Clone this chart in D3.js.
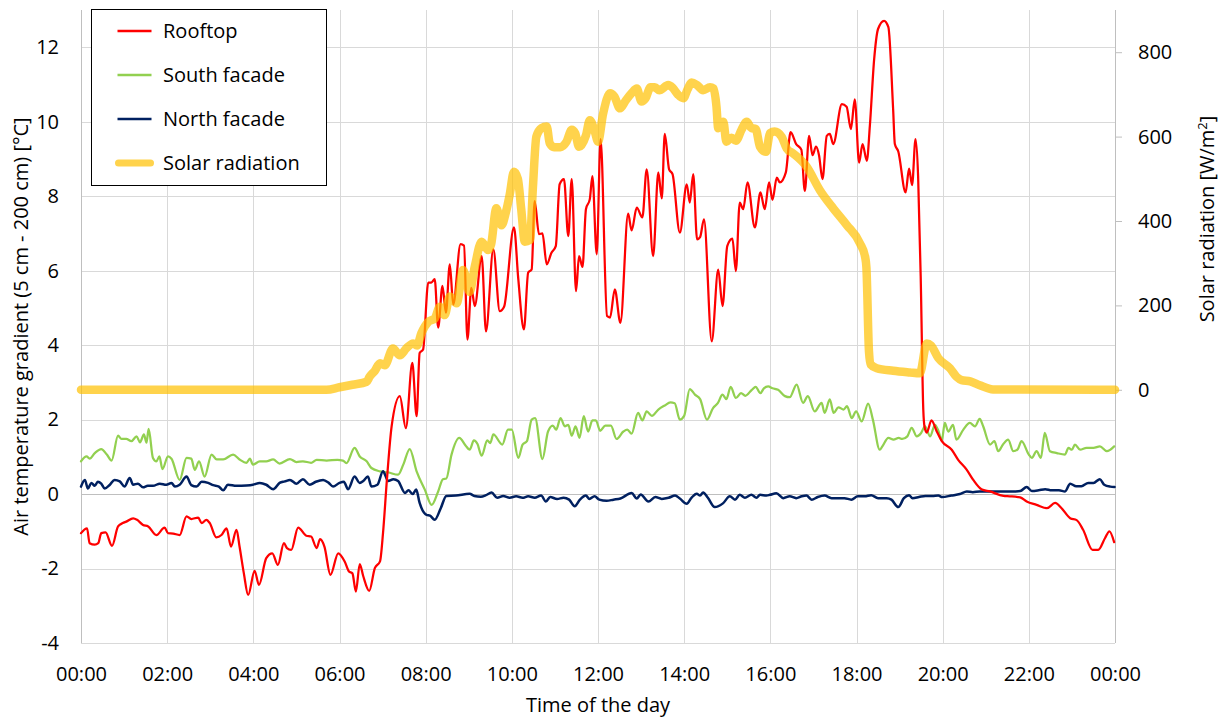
<!DOCTYPE html>
<html>
<head>
    <meta charset="utf-8">
    <title>air temperature gradient</title>
    <style media="screen">
        body {
            margin: 0;
            background: #fff;
        }

        svg text {
            font-family: "Open Sans", "DejaVu Sans", sans-serif;
            font-size: 20px;
            fill: #000;
        }

        .grid line {
            stroke: #d9d9d9;
            stroke-width: 1px;
        }

        .series {
            fill: none;
            stroke-linejoin: round;
            stroke-linecap: round;
        }
    </style>
</head>
<body>

</body>
<script src="https://d3js.org/d3.v7.min.js"></script>
<script type="text/javascript">
    // values: [hour of day, value]
    var rooftop = [
        [0, -1.05], [0.14, -0.92], [0.2, -1.32], [0.32, -1.36], [0.4, -1.32], [0.47, -1.05], [0.57, -1.03],
        [0.72, -1.39], [0.86, -0.87], [0.97, -0.78], [1.05, -0.74], [1.21, -0.65], [1.3, -0.69], [1.44, -0.83],
        [1.56, -0.87], [1.75, -1.1], [1.94, -0.9], [2.02, -1.05], [2.14, -1.06], [2.29, -1.1], [2.45, -0.6],
        [2.56, -0.67], [2.72, -0.63], [2.8, -0.78], [2.91, -0.69], [2.99, -0.78], [3.14, -1.16], [3.26, -1.1],
        [3.38, -0.92], [3.48, -1.41], [3.61, -0.96], [3.68, -1.41], [3.78, -2.13], [3.88, -2.71], [4.03, -2.06],
        [4.13, -2.44], [4.3, -1.72], [4.44, -1.59], [4.57, -1.9], [4.71, -1.32], [4.78, -1.45], [4.88, -1.5],
        [5.04, -0.9], [5.23, -1.12], [5.34, -1.14], [5.47, -1.45], [5.55, -1.21], [5.65, -1.41], [5.79, -2.17],
        [5.97, -1.59], [6.12, -1.81], [6.22, -2.08], [6.3, -2.13], [6.38, -2.62], [6.47, -1.88], [6.55, -2.2],
        [6.69, -2.6], [6.82, -1.99], [6.94, -1.81], [7.01, -1.05], [7.1, 0.38], [7.21, 1.82], [7.4, 2.63],
        [7.54, 1.77], [7.69, 3.52], [7.79, 2.09], [7.86, 3.79], [7.94, 3.88], [8.06, 5.68], [8.13, 5.68],
        [8.21, 5.77], [8.29, 4.47], [8.39, 5.59], [8.47, 4.87], [8.56, 6.17], [8.64, 5.09], [8.81, 6.71],
        [8.89, 6.67], [8.97, 4.15], [9.06, 5.54], [9.14, 5.05], [9.3, 6.39], [9.4, 4.37], [9.57, 6.57],
        [9.72, 4.91], [9.82, 5.03], [10.05, 7.16], [10.15, 5.77], [10.28, 4.42], [10.38, 5.95], [10.46, 6.03],
        [10.53, 7.87], [10.63, 6.98], [10.71, 7.0], [10.81, 6.17], [10.92, 6.48], [11.02, 6.66], [11.11, 8.32],
        [11.21, 8.46], [11.31, 6.93], [11.39, 8.46], [11.49, 5.45], [11.56, 6.39], [11.64, 6.1], [11.72, 7.65],
        [11.81, 7.92], [11.87, 8.54], [11.97, 6.44], [12.06, 9.53], [12.21, 4.78], [12.28, 4.74], [12.39, 5.5],
        [12.52, 4.6], [12.7, 7.53], [12.78, 7.08], [12.9, 7.69], [13.03, 7.43], [13.13, 8.72], [13.28, 6.39],
        [13.4, 8.64], [13.48, 7.94], [13.55, 9.67], [13.65, 8.72], [13.73, 8.59], [13.9, 7.02], [14.06, 8.32],
        [14.13, 7.83], [14.21, 8.59], [14.3, 6.84], [14.37, 6.9], [14.46, 7.38], [14.64, 4.1], [14.79, 6.03],
        [14.89, 5.05], [15.0, 6.66], [15.12, 6.86], [15.2, 5.99], [15.29, 7.83], [15.37, 7.65], [15.47, 8.37],
        [15.64, 7.16], [15.77, 8.1], [15.87, 7.65], [15.97, 8.37], [16.05, 7.9], [16.15, 8.5], [16.22, 8.37],
        [16.36, 8.64], [16.47, 9.72], [16.6, 9.4], [16.72, 9.25], [16.8, 8.14], [16.9, 9.62], [16.98, 9.1],
        [17.06, 9.33], [17.13, 9.1], [17.21, 8.46], [17.31, 9.62], [17.38, 9.67], [17.46, 9.4], [17.66, 10.47],
        [17.77, 10.4], [17.87, 9.8], [17.96, 10.6], [18.06, 8.9], [18.14, 9.4], [18.24, 8.95], [18.31, 9.89],
        [18.41, 11.68], [18.5, 12.49], [18.64, 12.71], [18.74, 12.54], [18.85, 10.34], [18.89, 9.4], [18.97, 9.2],
        [19.14, 8.1], [19.22, 8.74], [19.29, 8.3], [19.37, 9.53], [19.43, 8.54], [19.49, 5.85], [19.55, 2.27],
        [19.58, 1.8], [19.63, 1.65], [19.74, 1.98], [19.86, 1.69], [19.98, 1.42], [20.21, 1.19], [20.36, 0.92],
        [20.56, 0.65], [20.71, 0.38], [20.9, 0.13], [21.1, 0.07], [21.41, -0.05], [21.56, -0.06], [21.8, -0.09],
        [21.95, -0.2], [22.18, -0.29], [22.42, -0.38], [22.61, -0.24], [22.76, -0.38], [22.96, -0.65],
        [23.11, -0.7], [23.26, -0.96], [23.48, -1.5], [23.61, -1.5], [23.77, -1.18], [23.87, -1.0], [23.98, -1.29]
    ];

    var southFacade = [
        [0, 0.88], [0.13, 1.01], [0.2, 0.95], [0.32, 1.1], [0.47, 1.21], [0.6, 1.06], [0.71, 0.9], [0.86, 1.57],
        [0.94, 1.48], [1.05, 1.48], [1.17, 1.42], [1.29, 1.55], [1.37, 1.39], [1.46, 1.6], [1.52, 1.38],
        [1.57, 1.75], [1.67, 0.97], [1.75, 0.88], [1.82, 1.01], [1.89, 0.67], [2.02, 1.01], [2.1, 0.95],
        [2.29, 0.38], [2.45, 0.97], [2.56, 0.95], [2.64, 0.65], [2.74, 0.88], [2.87, 0.47], [3.03, 1.06],
        [3.15, 0.93], [3.3, 0.93], [3.53, 1.06], [3.68, 0.93], [3.84, 0.84], [3.92, 0.95], [3.99, 0.79],
        [4.15, 0.88], [4.3, 0.88], [4.46, 0.93], [4.61, 0.82], [4.85, 0.94], [5.0, 0.86], [5.15, 0.88],
        [5.34, 0.84], [5.47, 0.92], [5.7, 0.9], [5.95, 0.92], [6.08, 0.9], [6.16, 0.83], [6.35, 1.24],
        [6.47, 1.01], [6.63, 0.88], [6.74, 0.7], [6.94, 0.61], [7.13, 0.58], [7.36, 0.52], [7.48, 0.79],
        [7.63, 1.21], [7.79, 0.61], [7.98, 0.12], [8.14, -0.29], [8.29, 0.07], [8.4, 0.4], [8.48, 0.42],
        [8.6, 1.06], [8.78, 1.51], [8.93, 1.3], [9.02, 1.19], [9.12, 1.44], [9.2, 1.35], [9.3, 1.03],
        [9.43, 1.44], [9.5, 1.37], [9.57, 1.6], [9.78, 1.33], [9.91, 1.73], [10.0, 1.73], [10.15, 0.97],
        [10.25, 1.33], [10.35, 1.42], [10.46, 2.0], [10.54, 2.04], [10.71, 0.94], [10.84, 1.68], [10.95, 1.84],
        [11.03, 1.73], [11.13, 2.04], [11.23, 1.82], [11.31, 1.86], [11.39, 1.57], [11.48, 1.82], [11.57, 1.51],
        [11.67, 2.09], [11.77, 1.68], [11.87, 1.98], [11.95, 1.98], [12.05, 1.7], [12.17, 1.84], [12.3, 1.84],
        [12.43, 1.48], [12.59, 1.68], [12.68, 1.73], [12.78, 1.62], [12.93, 2.18], [13.03, 1.98], [13.13, 2.22],
        [13.25, 2.1], [13.4, 2.27], [13.55, 2.38], [13.68, 2.46], [13.78, 2.44], [13.9, 2.0], [14.0, 2.1],
        [14.13, 2.82], [14.25, 2.67], [14.37, 2.55], [14.53, 2.0], [14.67, 2.31], [14.78, 2.44], [14.89, 2.67],
        [14.98, 2.55], [15.08, 2.88], [15.2, 2.58], [15.32, 2.71], [15.42, 2.64], [15.57, 2.8], [15.66, 2.88],
        [15.77, 2.71], [15.85, 2.84], [15.95, 2.89], [16.05, 2.84], [16.18, 2.8], [16.34, 2.63], [16.45, 2.6],
        [16.61, 2.94], [16.76, 2.45], [16.87, 2.63], [17.03, 2.22], [17.19, 2.45], [17.26, 2.18], [17.38, 2.54],
        [17.47, 2.18], [17.58, 2.33], [17.7, 2.27], [17.78, 2.36], [17.89, 2.04], [17.99, 2.22], [18.12, 1.95],
        [18.27, 2.43], [18.38, 2.0], [18.54, 1.19], [18.6, 1.28], [18.74, 1.51], [18.86, 1.46], [18.98, 1.51],
        [19.06, 1.48], [19.18, 1.55], [19.28, 1.78], [19.4, 1.55], [19.5, 1.64], [19.59, 1.82], [19.71, 1.55],
        [19.82, 1.86], [19.9, 1.7], [19.98, 1.44], [20.05, 1.91], [20.13, 1.68], [20.24, 1.86], [20.32, 1.46],
        [20.48, 1.73], [20.63, 1.91], [20.75, 1.82], [20.86, 2.02], [20.94, 1.82], [21.1, 1.33], [21.2, 1.42],
        [21.29, 1.15], [21.4, 1.33], [21.52, 1.46], [21.64, 1.15], [21.74, 1.2], [21.83, 1.42], [22.0, 1.06],
        [22.07, 0.97], [22.18, 1.15], [22.28, 0.97], [22.37, 1.64], [22.49, 1.15], [22.65, 1.1], [22.84, 1.06],
        [22.92, 1.24], [23.0, 1.19], [23.07, 1.33], [23.19, 1.19], [23.34, 1.24], [23.5, 1.24], [23.65, 1.28],
        [23.81, 1.15], [23.98, 1.28]
    ];

    var northFacade = [
        [0, 0.2], [0.09, 0.38], [0.16, 0.15], [0.24, 0.3], [0.32, 0.22], [0.39, 0.33], [0.47, 0.28], [0.55, 0.15],
        [0.67, 0.25], [0.78, 0.38], [0.9, 0.34], [1.01, 0.2], [1.13, 0.43], [1.21, 0.25], [1.32, 0.28],
        [1.44, 0.18], [1.55, 0.22], [1.67, 0.22], [1.83, 0.28], [1.98, 0.25], [2.1, 0.3], [2.18, 0.2],
        [2.29, 0.25], [2.45, 0.47], [2.56, 0.24], [2.68, 0.2], [2.8, 0.33], [2.95, 0.3], [3.07, 0.24],
        [3.2, 0.2], [3.3, 0.1], [3.41, 0.25], [3.61, 0.22], [3.84, 0.23], [3.99, 0.25], [4.15, 0.3], [4.3, 0.25],
        [4.46, 0.13], [4.61, 0.3], [4.73, 0.34], [4.85, 0.38], [5.0, 0.28], [5.15, 0.4], [5.31, 0.25],
        [5.45, 0.33], [5.62, 0.38], [5.75, 0.3], [5.85, 0.2], [6.0, 0.3], [6.1, 0.33], [6.2, 0.13], [6.35, 0.47],
        [6.47, 0.3], [6.55, 0.35], [6.66, 0.47], [6.74, 0.2], [6.88, 0.25], [7.01, 0.61], [7.13, 0.35],
        [7.25, 0.4], [7.36, 0.35], [7.52, 0.03], [7.6, 0.1], [7.7, 0.0], [7.78, 0.12], [7.86, -0.24],
        [8.02, -0.56], [8.1, -0.58], [8.21, -0.69], [8.35, -0.38], [8.48, -0.05], [8.7, -0.04], [9.02, 0.01],
        [9.13, -0.05], [9.28, -0.07], [9.4, -0.03], [9.53, 0.04], [9.66, -0.1], [9.8, -0.05], [9.95, -0.1],
        [10.1, -0.06], [10.25, -0.1], [10.38, -0.06], [10.53, -0.1], [10.68, -0.04], [10.79, -0.2],
        [10.89, -0.08], [11.05, -0.13], [11.2, -0.1], [11.33, -0.15], [11.46, -0.33], [11.58, -0.15],
        [11.72, -0.04], [11.8, -0.13], [11.92, -0.06], [12.03, -0.15], [12.2, -0.18], [12.36, -0.15],
        [12.52, -0.12], [12.78, 0.03], [12.9, -0.12], [12.99, -0.01], [13.17, -0.2], [13.33, -0.08],
        [13.48, -0.13], [13.64, -0.1], [13.79, -0.04], [13.9, -0.12], [14.06, -0.26], [14.17, -0.1],
        [14.29, 0.01], [14.37, -0.04], [14.44, 0.04], [14.55, -0.1], [14.71, -0.35], [14.9, -0.25],
        [15.06, -0.06], [15.18, -0.15], [15.29, -0.02], [15.41, -0.1], [15.56, -0.02], [15.68, -0.1],
        [15.76, -0.02], [15.91, -0.04], [15.99, -0.02], [16.14, 0.02], [16.3, -0.11], [16.45, -0.06],
        [16.6, -0.11], [16.73, -0.06], [16.84, -0.04], [16.96, -0.15], [17.1, -0.08], [17.26, -0.04],
        [17.42, -0.11], [17.57, -0.11], [17.72, -0.11], [17.88, -0.15], [18.03, -0.06], [18.19, -0.06],
        [18.34, -0.03], [18.5, -0.11], [18.7, -0.11], [18.81, -0.15], [18.97, -0.35], [19.1, -0.11],
        [19.22, -0.03], [19.3, -0.11], [19.45, -0.08], [19.6, -0.05], [19.76, -0.05], [19.9, -0.04],
        [19.99, -0.08], [20.2, -0.04], [20.4, 0.0], [20.56, 0.07], [20.7, 0.05], [20.86, 0.07], [21.1, 0.07],
        [21.41, 0.07], [21.64, 0.07], [21.8, 0.08], [21.95, 0.19], [22.07, 0.08], [22.23, 0.1], [22.38, 0.13],
        [22.53, 0.1], [22.7, 0.1], [22.84, 0.07], [22.96, 0.28], [23.1, 0.21], [23.22, 0.21], [23.38, 0.3],
        [23.5, 0.3], [23.65, 0.4], [23.75, 0.25], [23.89, 0.2], [23.99, 0.19]
    ];

    var solarRadiation = [
        [0, 0], [5.7, 0], [6.0, 6], [6.3, 12], [6.63, 19], [6.7, 31], [6.82, 45], [6.94, 63], [7.05, 58],
        [7.24, 98], [7.4, 82], [7.55, 98], [7.71, 110], [7.8, 105], [7.9, 134], [8.06, 161], [8.21, 169],
        [8.33, 197], [8.44, 177], [8.56, 221], [8.72, 205], [8.87, 284], [9.02, 232], [9.14, 292], [9.3, 351],
        [9.45, 331], [9.52, 345], [9.64, 430], [9.76, 390], [9.86, 420], [9.95, 462], [10.05, 517],
        [10.14, 500], [10.22, 426], [10.3, 351], [10.42, 355], [10.49, 481], [10.57, 600], [10.69, 620],
        [10.81, 624], [10.88, 584], [10.98, 575], [11.13, 575], [11.27, 588], [11.39, 616], [11.47, 608],
        [11.56, 576], [11.72, 603], [11.81, 639], [11.93, 610], [12.0, 588], [12.12, 655], [12.28, 703],
        [12.38, 695], [12.51, 667], [12.64, 685], [12.78, 703], [12.9, 714], [13.01, 683], [13.1, 690],
        [13.22, 717], [13.32, 717], [13.42, 710], [13.63, 722], [13.73, 716], [13.86, 699], [13.98, 691],
        [14.08, 712], [14.17, 728], [14.3, 722], [14.44, 710], [14.6, 717], [14.68, 714], [14.75, 671],
        [14.79, 620], [14.91, 635], [14.98, 588], [15.1, 597], [15.2, 590], [15.33, 616], [15.45, 635],
        [15.56, 620], [15.66, 618], [15.76, 576], [15.9, 564], [15.99, 608], [16.1, 612], [16.26, 600],
        [16.38, 572], [16.53, 560], [16.84, 529], [17.15, 473], [17.46, 430], [17.77, 391], [18.08, 347],
        [18.2, 315], [18.23, 290], [18.29, 90], [18.33, 60], [18.47, 51], [18.85, 45], [19.24, 41],
        [19.47, 39], [19.63, 110], [19.73, 105], [19.9, 75], [20.17, 51], [20.32, 31], [20.44, 23],
        [20.64, 20], [20.86, 11], [21.17, 1], [24, 0]
    ];

    var hourTicks = [0, 2, 4, 6, 8, 10, 12, 14, 16, 18, 20, 22, 24];
    var hourLabels = ["00:00", "02:00", "04:00", "06:00", "08:00", "10:00", "12:00",
        "14:00", "16:00", "18:00", "20:00", "22:00", "00:00"];
    var tempTicks = [-4, -2, 0, 2, 4, 6, 8, 10, 12];
    var solarTicks = [0, 200, 400, 600, 800];

    var seriesNames = ["Rooftop", "South facade", "North facade", "Solar radiation"];
    var seriesColors = ["#ff0000", "#92d050", "#002060", "#ffc000"];

    // Set the dimensions and margins of the diagram
    var margin = {top: 10, right: 107, bottom: 77, left: 81},
        width = 1222 - margin.left - margin.right,
        height = 720 - margin.top - margin.bottom;

    var svg = d3.select("body").append("svg")
        .attr("width", 1222)
        .attr("height", 720);

    svg.append("rect")
        .attr("width", 1222)
        .attr("height", 720)
        .attr("fill", "#fff");

    var g = svg.append("g")
        .attr("transform", "translate(" + margin.left + "," + margin.top + ")");

    var x = d3.scaleLinear().domain([0, 24]).range([0, width]);
    var y = d3.scaleLinear().domain([-4, 13]).range([height, 0]);
    var y2 = d3.scaleLinear().domain([-600, 900]).range([height, 0]);

    // gridlines
    var grid = g.append("g").attr("class", "grid");
    grid.selectAll("line.h")
        .data(tempTicks)
        .enter().append("line")
        .attr("class", "h")
        .attr("x1", 0).attr("x2", width)
        .attr("y1", function (d) { return Math.round(y(d)) + 0.5; })
        .attr("y2", function (d) { return Math.round(y(d)) + 0.5; });
    grid.selectAll("line.v")
        .data(hourTicks.slice(1, -1))
        .enter().append("line")
        .attr("class", "v")
        .attr("y1", 0).attr("y2", height)
        .attr("x1", function (d) { return Math.round(x(d)) + 0.5; })
        .attr("x2", function (d) { return Math.round(x(d)) + 0.5; });

    // axis lines (value axis crosses at 0)
    var axisColor = "#bfbfbf";
    g.append("line")
        .attr("x1", 0).attr("x2", width)
        .attr("y1", Math.round(y(0)) + 0.5).attr("y2", Math.round(y(0)) + 0.5)
        .attr("stroke", axisColor);
    g.append("line")
        .attr("x1", 0.5).attr("x2", 0.5)
        .attr("y1", 0).attr("y2", height)
        .attr("stroke", axisColor);
    g.append("line")
        .attr("x1", Math.round(width) + 0.5).attr("x2", Math.round(width) + 0.5)
        .attr("y1", 0).attr("y2", height)
        .attr("stroke", axisColor);

    // left axis (plain hyphen for negatives, like the original)
    var leftAxis = g.append("g")
        .call(d3.axisLeft(y).tickValues(tempTicks).tickSize(0).tickPadding(22)
            .tickFormat(function (d) { return String(d); }));
    leftAxis.select(".domain").remove();

    // bottom axis, labels at the low end
    var bottomAxis = g.append("g")
        .attr("transform", "translate(0," + height + ")")
        .call(d3.axisBottom(x).tickValues(hourTicks).tickSize(0).tickPadding(24)
            .tickFormat(function (d, i) { return hourLabels[i]; }));
    bottomAxis.select(".domain").remove();

    // right axis
    var rightAxis = g.append("g")
        .attr("transform", "translate(" + width + ",0)")
        .call(d3.axisRight(y2).tickValues(solarTicks).tickSize(7).tickPadding(16)
            .tickFormat(function (d) { return String(d); }));
    rightAxis.select(".domain").remove();
    rightAxis.selectAll(".tick line").attr("stroke", axisColor);

    g.selectAll(".tick text")
        .style("font-family", "'Open Sans', sans-serif")
        .style("font-size", "20px")
        .attr("fill", "#000");

    // axis titles
    svg.append("text")
        .attr("x", margin.left + width / 2)
        .attr("y", 712)
        .attr("text-anchor", "middle")
        .text("Time of the day");

    svg.append("text")
        .attr("transform", "translate(28," + (margin.top + height / 2) + ") rotate(-90)")
        .attr("text-anchor", "middle")
        .text("Air temperature gradient (5 cm - 200 cm) [°C]");

    var rTitle = svg.append("text")
        .attr("transform", "translate(1214,219) rotate(-90)")
        .attr("text-anchor", "middle");
    rTitle.append("tspan").text("Solar radiation [W/m");
    rTitle.append("tspan").attr("dy", -7).style("font-size", "13px").text("2");
    rTitle.append("tspan").attr("dy", 7).text("]");

    // lines
    var lineT = d3.line()
        .x(function (d) { return x(d[0]); })
        .y(function (d) { return y(d[1]); })
        .curve(d3.curveMonotoneX);
    var lineS = d3.line()
        .x(function (d) { return x(d[0]); })
        .y(function (d) { return y2(d[1]); })
        .curve(d3.curveMonotoneX);

    g.append("path").datum(southFacade)
        .attr("class", "series")
        .attr("d", lineT)
        .attr("stroke", seriesColors[1])
        .attr("stroke-width", 2.25);

    g.append("path").datum(northFacade)
        .attr("class", "series")
        .attr("d", lineT)
        .attr("stroke", seriesColors[2])
        .attr("stroke-width", 2.5);

    g.append("path").datum(rooftop)
        .attr("class", "series")
        .attr("d", lineT)
        .attr("stroke", seriesColors[0])
        .attr("stroke-width", 2.25);

    g.append("path").datum(solarRadiation)
        .attr("class", "series")
        .attr("d", lineS)
        .attr("stroke", seriesColors[3])
        .attr("stroke-opacity", 0.7)
        .attr("stroke-width", 8.5);

    // legend
    var legend = svg.append("g").attr("transform", "translate(91.5,9.5)");
    legend.append("rect")
        .attr("width", 235)
        .attr("height", 176)
        .attr("fill", "#fff")
        .attr("stroke", "#000")
        .attr("stroke-width", 1);

    var item = legend.selectAll("g.item")
        .data(seriesNames)
        .enter().append("g")
        .attr("class", "item")
        .attr("transform", function (d, i) { return "translate(0," + (21.5 + i * 44) + ")"; });

    item.append("line")
        .attr("x1", function (d, i) { return i == 3 ? 27 : 26; })
        .attr("x2", function (d, i) { return i == 3 ? 59 : 60; })
        .attr("stroke", function (d, i) { return seriesColors[i]; })
        .attr("stroke-opacity", function (d, i) { return i == 3 ? 0.7 : 1; })
        .attr("stroke-width", function (d, i) { return i == 3 ? 7 : 2.5; })
        .attr("stroke-linecap", function (d, i) { return i == 3 ? "round" : "butt"; });

    item.append("text")
        .attr("x", 71.5)
        .attr("dy", "0.35em")
        .text(function (d) { return d; });
</script>

</html>
